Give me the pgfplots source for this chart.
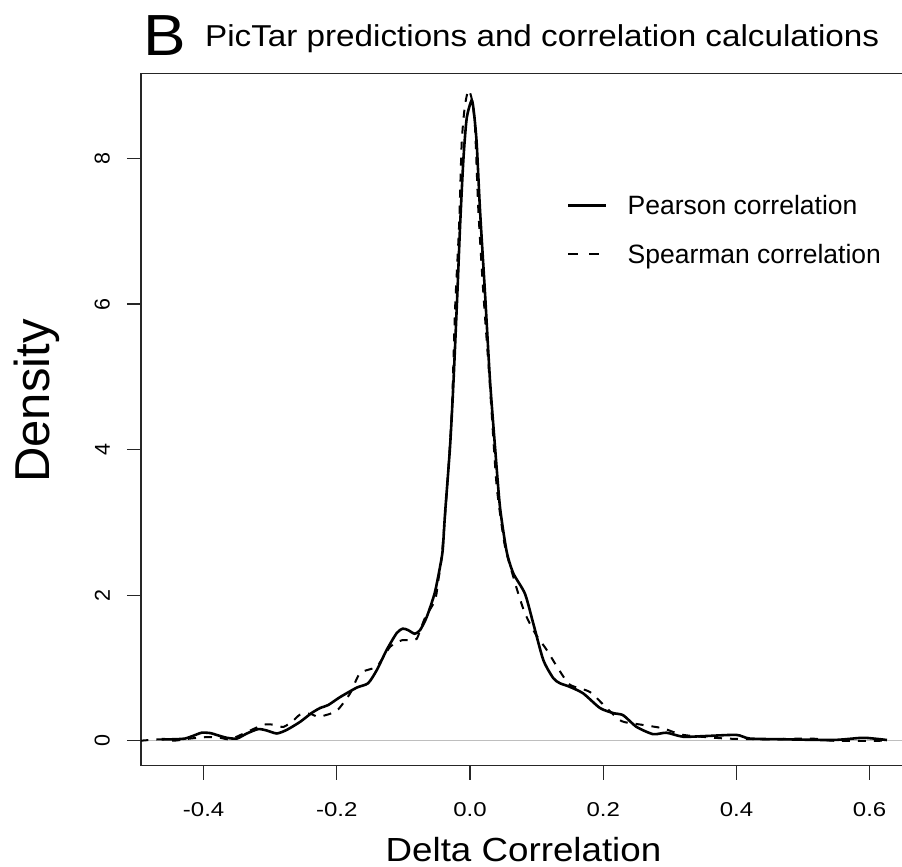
\documentclass[border=0pt]{standalone}
\usepackage{fontspec}
\setmainfont{Liberation Sans}
\newfontfamily\widefont[FakeStretch=1.1]{Liberation Sans}
\newfontfamily\tickfont[FakeStretch=1.2]{Liberation Sans}
\usepackage{pgfplots}
\pgfplotsset{compat=1.18}

\pgfplotstableread{
x y
-0.463 0.02
-0.445 0.02
-0.428 0.03
-0.415 0.07
-0.403 0.11
-0.390 0.105
-0.377 0.07
-0.365 0.04
-0.350 0.03
-0.335 0.10
-0.318 0.16
-0.305 0.14
-0.290 0.10
-0.275 0.15
-0.255 0.26
-0.238 0.38
-0.225 0.45
-0.213 0.49
-0.195 0.60
-0.170 0.73
-0.153 0.79
-0.140 0.97
-0.125 1.25
-0.110 1.48
-0.101 1.54
-0.093 1.52
-0.083 1.47
-0.075 1.52
-0.065 1.70
-0.053 2.03
-0.045 2.39
-0.041 2.62
-0.0375 3.12
-0.030 4.04
-0.025 4.90
-0.019 6.15
-0.015 7.06
-0.010 7.98
-0.005 8.55
0.0025 8.80
0.006 8.62
0.010 8.21
0.015 7.29
0.0225 6.15
0.030 4.95
0.0375 4.04
0.045 3.21
0.055 2.60
0.065 2.30
0.0825 2.02
0.095 1.61
0.110 1.11
0.125 0.86
0.135 0.79
0.150 0.74
0.170 0.65
0.195 0.45
0.215 0.38
0.230 0.35
0.250 0.19
0.275 0.09
0.295 0.11
0.320 0.055
0.355 0.065
0.400 0.08
0.420 0.03
0.470 0.02
0.545 0.01
0.588 0.04
0.606 0.03
0.626 0.01
}\pearson

\pgfplotstableread{
x y
-0.495 0.00
-0.463 0.02
-0.445 0.00
-0.420 0.03
-0.395 0.05
-0.375 0.04
-0.360 0.02
-0.335 0.12
-0.310 0.22
-0.295 0.22
-0.280 0.19
-0.265 0.28
-0.255 0.36
-0.240 0.37
-0.228 0.33
-0.210 0.37
-0.198 0.43
-0.180 0.65
-0.165 0.93
-0.140 1.02
-0.120 1.29
-0.1025 1.38
-0.090 1.38
-0.080 1.40
-0.068 1.68
-0.0525 1.93
-0.0475 2.21
-0.0425 2.53
-0.035 3.40
-0.0275 4.50
-0.0225 5.92
-0.0165 7.06
-0.0125 8.21
-0.008 8.70
-0.0025 8.94
0.003 8.80
0.0075 8.43
0.0125 7.29
0.020 6.15
0.029 5.00
0.0325 4.50
0.040 3.50
0.050 2.80
0.055 2.57
0.065 2.25
0.0725 2.02
0.0825 1.75
0.0975 1.48
0.115 1.25
0.1325 0.99
0.150 0.77
0.180 0.67
0.205 0.45
0.2275 0.27
0.2575 0.22
0.290 0.17
0.320 0.08
0.385 0.03
0.445 0.02
0.513 0.03
0.545 0.00
0.620 0.00
}\spearman

\begin{document}
\begin{tikzpicture}[x=1pt,y=1pt]
\begin{axis}[
  at={(0,0)}, anchor=south west,
  scale only axis, width=774.6pt, height=692.4pt,
  xmin=-0.494, xmax=0.669, ymin=-0.343, ymax=9.17,
  axis line style={line width=1.3pt, black!85},
  tick style={line width=1.2pt, black!85},
  tick align=outside, major tick length=14pt,
  xtick pos=lower, ytick pos=left,
  xtick={-0.4,-0.2,0,0.2,0.4,0.6},
  xticklabels={-0.4,-0.2,0.0,0.2,0.4,0.6},
  ytick={0,2,4,6,8}, yticklabels={0,2,4,6,8},
  xticklabel style={font=\tickfont\fontsize{20}{24}\selectfont, anchor=north, inner sep=0pt},
  yticklabel style={font=\fontsize{21.5}{24}\selectfont, rotate=90, anchor=south, inner sep=0pt},
  xticklabel shift=23pt,
  yticklabel shift=17pt,
  legend style={at={(0.55,0.824)}, anchor=north west, draw=none, fill=none,
    inner sep=0pt, outer sep=0pt, font=\fontsize{26.5}{30}\selectfont,
    row sep=28pt, nodes={inner sep=0pt}},
  legend image code/.code={\draw[#1] (0pt,0pt) -- (38pt,0pt); \path (58pt,0pt);},
  legend cell align=left,
]
\addplot[color={rgb,255:red,190;green,190;blue,190}, line width=1pt, forget plot] coordinates {(-0.494,0) (0.669,0)};
\addplot[black, line width=2.6pt, smooth, tension=0.4] table[x=x,y=y] {\pearson};
\addlegendentry{Pearson correlation}
\addplot[black, line width=2pt, dash pattern=on 8pt off 8pt, smooth, tension=0.4,
  legend image code/.code={\draw[black, line width=2pt, dash pattern=on 10pt off 11pt] (0pt,0pt) -- (31pt,0pt); \path (58pt,0pt);}] table[x=x,y=y] {\spearman};
\addlegendentry{Spearman correlation}
\end{axis}
\node[anchor=base west, inner sep=0pt, font=\widefont\fontsize{58}{60}\selectfont] at (2,709.7) {B};
\node[anchor=base west, inner sep=0pt, font=\widefont\fontsize{30.2}{32}\selectfont] at (64,719) {PicTar predictions and correlation calculations};
\node[anchor=base, inner sep=0pt, font=\widefont\fontsize{33.4}{36}\selectfont] at (382.5,-95.6) {Delta Correlation};
\node[rotate=90, anchor=center, inner sep=0pt, font=\fontsize{49}{52}\selectfont] at (-103.7,364.7) {Density};
\pgfresetboundingbox
\useasboundingbox (-141,-101.3) rectangle (761,765.7);
\end{tikzpicture}
\end{document}
